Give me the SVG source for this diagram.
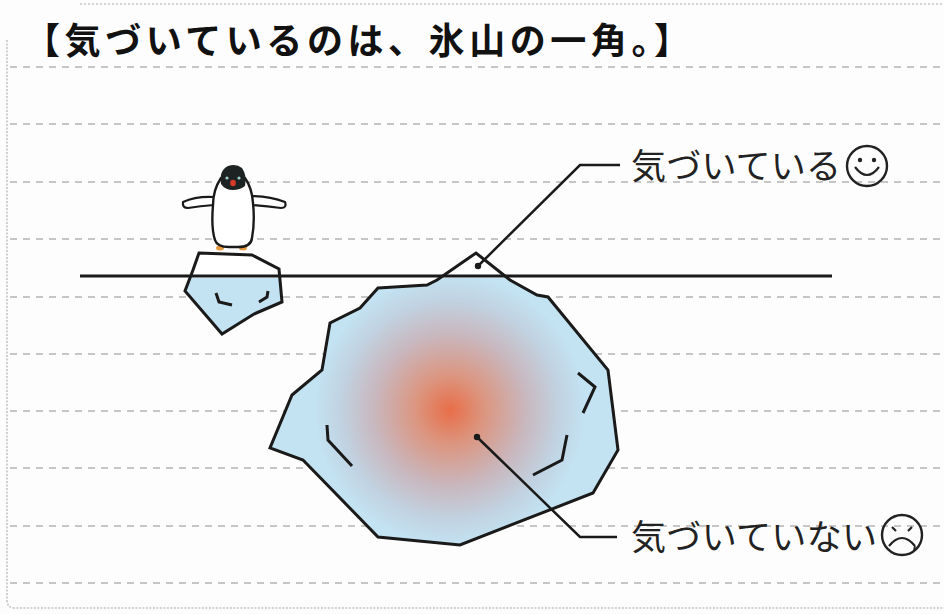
<svg xmlns="http://www.w3.org/2000/svg" width="944" height="614" viewBox="0 0 944 614">
  <defs>
    <style>
      .rule { stroke: #b4b4b4; stroke-width: 1.3; stroke-dasharray: 7 6; fill: none; }
      .ink { stroke: #1a1a1a; stroke-width: 3; fill: none; stroke-linejoin: miter; stroke-linecap: butt; }
      .thin { stroke: #1a1a1a; stroke-width: 2.5; fill: none; }
      .label { font-family: "Noto Sans CJK JP", "Noto Sans", sans-serif; font-size: 35px; fill: #222; }
      .title { font-family: "Noto Sans CJK JP", sans-serif; font-size: 36px; font-weight: bold; fill: #111; }
    </style>
    <radialGradient id="core" gradientUnits="userSpaceOnUse" cx="450" cy="410" r="135">
      <stop offset="0" stop-color="#e86e48"/>
      <stop offset="0.25" stop-color="#dc957f"/>
      <stop offset="0.55" stop-color="#c9b6bc"/>
      <stop offset="0.82" stop-color="#c1d3e2"/>
      <stop offset="1" stop-color="#c3e2f2"/>
    </radialGradient>
    <clipPath id="underwater">
      <rect x="0" y="278" width="944" height="336"/>
    </clipPath>
  </defs>

  <!-- paper -->
  <rect x="0" y="0" width="944" height="614" fill="#fdfdfd"/>
  <line x1="80" y1="4" x2="944" y2="4" stroke="#c8c8c8" stroke-width="1.5" stroke-dasharray="2 2"/>
  <path d="M7,40 V600 Q7,608 15,608 H944" fill="none" stroke="#c4c4c4" stroke-width="1.6" stroke-dasharray="2 1.5"/>

  <!-- ruled lines -->
  <g id="rules">
    <line class="rule" x1="10" y1="67" x2="944" y2="67"/>
    <line class="rule" x1="10" y1="124" x2="944" y2="124"/>
    <line class="rule" x1="10" y1="182" x2="944" y2="182"/>
    <line class="rule" x1="10" y1="239" x2="944" y2="239"/>
    <line class="rule" x1="10" y1="297" x2="944" y2="297"/>
    <line class="rule" x1="10" y1="354" x2="944" y2="354"/>
    <line class="rule" x1="10" y1="411" x2="944" y2="411"/>
    <line class="rule" x1="10" y1="468" x2="944" y2="468"/>
    <line class="rule" x1="10" y1="526" x2="944" y2="526"/>
    <line class="rule" x1="10" y1="583" x2="944" y2="583"/>
  </g>

  <!-- heading -->
  <g id="title">
    <text class="title" x="24" y="54" textLength="666" lengthAdjust="spacing">【気づいているのは、氷山の一角。】</text>
  </g>

  <!-- small floe under the penguin -->
  <g id="floe">
    <polygon points="199,253 252,255 279,269 282,302 254,314 222,334 185,291 193,270" fill="#fff"/>
    <polygon points="199,253 252,255 279,269 282,302 254,314 222,334 185,291 193,270" fill="#c3e2f2" clip-path="url(#underwater)"/>
    <polygon class="ink" points="199,253 252,255 279,269 282,302 254,314 222,334 185,291 193,270"/>
    <polyline class="ink" points="216,293 219,302 232,305"/>
    <polyline class="ink" points="268,291 267,297 259,302"/>
  </g>

  <!-- big iceberg -->
  <g id="iceberg">
    <polygon points="378,288 427,285 437,280 476,253 510,280 537,295 548,297 608,370 618,450 593,493 460,545 378,537 303,460 270,448 292,395 322,370 330,323 360,308" fill="#fff"/>
    <polygon points="378,288 427,285 437,280 476,253 510,280 537,295 548,297 608,370 618,450 593,493 460,545 378,537 303,460 270,448 292,395 322,370 330,323 360,308" fill="url(#core)" clip-path="url(#underwater)"/>
    <polygon class="ink" points="378,288 427,285 437,280 476,253 510,280 537,295 548,297 608,370 618,450 593,493 460,545 378,537 303,460 270,448 292,395 322,370 330,323 360,308"/>
    <polyline class="ink" points="327,425 328,440 352,466"/>
    <polyline class="ink" points="578,373 595,387 583,413"/>
    <polyline class="ink" points="567,435 562,460 533,475"/>
  </g>

  <!-- waterline -->
  <g id="waterline">
    <line x1="80" y1="276" x2="832" y2="276" stroke="#1a1a1a" stroke-width="2.8"/>
  </g>

  <!-- penguin -->
  <g id="penguin">
    <ellipse cx="220" cy="248" rx="4" ry="2.5" fill="#e89a40"/>
    <ellipse cx="243" cy="248" rx="4" ry="2.5" fill="#e89a40"/>
    <path d="M214,197 Q196,196 183,202 Q182,208 188,208 Q200,206 214,205 Z" fill="#fff" stroke="#1a1a1a" stroke-width="2.2" stroke-linejoin="round"/>
    <path d="M251,196 Q270,196 285,202 Q287,208 281,208 Q266,206 251,205 Z" fill="#fff" stroke="#1a1a1a" stroke-width="2.2" stroke-linejoin="round"/>
    <path d="M221,178 Q213,190 213,205 Q211,228 215,240 Q217,247 229,247 L238,247 Q251,247 252,238 Q255,222 253,203 Q252,188 245,178 Z" fill="#fff" stroke="#1a1a1a" stroke-width="2.4" stroke-linejoin="round"/>
    <path d="M221,184 Q219,170 228,166 Q236,163 242,168 Q247,175 245,186 Q240,190 233,190 Q225,190 221,184 Z" fill="#1c2322"/>
    <circle cx="227" cy="178" r="1.6" fill="#9fd0c8"/>
    <circle cx="239" cy="178" r="1.6" fill="#9fd0c8"/>
    <ellipse cx="233" cy="183" rx="2.8" ry="3.3" fill="#d83a2a"/>
  </g>

  <!-- leader lines -->
  <g id="connectors">
    <polyline class="thin" points="478,266 580,165 620,165"/>
    <circle cx="478" cy="266" r="3.2" fill="#1a1a1a"/>
    <polyline class="thin" points="477,437 580,537 617,537"/>
    <circle cx="477" cy="437" r="3.2" fill="#1a1a1a"/>
  </g>

  <!-- label: noticed -->
  <g id="label-aware">
    <text class="label" x="631" y="179" textLength="210" lengthAdjust="spacing">気づいている</text>
    <circle cx="867" cy="166" r="20" fill="none" stroke="#222" stroke-width="2.4"/>
    <circle cx="860" cy="160" r="2.2" fill="#222"/>
    <circle cx="874" cy="160" r="2.2" fill="#222"/>
    <path d="M855,167 Q867,183 879,167" fill="none" stroke="#222" stroke-width="2.2"/>
  </g>

  <!-- label: not noticed -->
  <g id="label-unaware">
    <text class="label" x="631" y="550" textLength="246" lengthAdjust="spacing">気づいていない</text>
    <circle cx="902" cy="535" r="20" fill="none" stroke="#222" stroke-width="2.4"/>
    <path d="M892,527 L896,531 M912,527 L908,531" fill="none" stroke="#222" stroke-width="2.2"/>
    <path d="M889,546 Q902,530 915,546" fill="none" stroke="#222" stroke-width="2.2"/>
    <path d="M915,546 L914,550" fill="none" stroke="#222" stroke-width="1.8"/>
  </g>
</svg>
